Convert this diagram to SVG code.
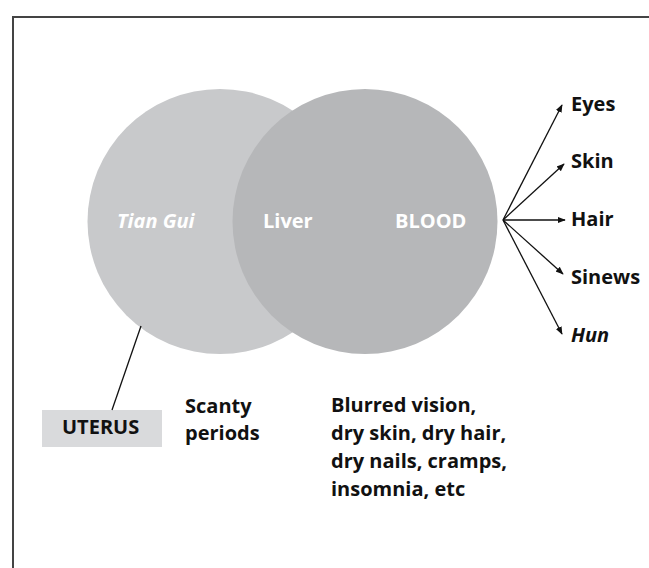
<svg xmlns="http://www.w3.org/2000/svg" width="649" height="568" viewBox="0 0 649 568">
  <defs>
    <style>
      .t { font-family: "Open Sans", "Liberation Sans", sans-serif; font-weight: 700; font-size: 20px; fill: #111; }
      .w { fill: #ffffff; }
      .i { font-style: italic; }
      .conn { stroke: #111; stroke-width: 1.3; fill: none; }
    </style>
    <marker id="ah" viewBox="0 0 10 10" refX="9" refY="5" markerWidth="8" markerHeight="8" markerUnits="userSpaceOnUse" orient="auto">
      <path d="M0,1 L10,5 L0,9 Z" fill="#111"/>
    </marker>
  </defs>
  <rect x="0" y="0" width="649" height="568" fill="#ffffff"/>
  <rect x="13" y="17" width="700" height="600" fill="none" stroke="#444" stroke-width="2"/>

  <g id="tiangui">
    <circle cx="220" cy="221.5" r="132.5" fill="#c8c9cb"/>
    <text class="t w i" x="117" y="228">Tian Gui</text>
  </g>
  <g id="liver">
    <circle cx="365" cy="221.5" r="132.5" fill="#b6b7b9"/>
    <text class="t w" x="263" y="228">Liver</text>
    <text class="t w" x="395" y="228">BLOOD</text>
  </g>
  <g id="uterus">
    <rect x="42" y="410" width="120" height="37" fill="#d9dadc"/>
    <text class="t" x="62" y="434">UTERUS</text>
  </g>
  <g id="scanty">
    <text class="t" x="185" y="413">Scanty</text>
    <text class="t" x="185" y="440">periods</text>
  </g>
  <g id="symptoms">
    <text class="t" x="331" y="412">Blurred vision,</text>
    <text class="t" x="331" y="440">dry skin, dry hair,</text>
    <text class="t" x="331" y="468">dry nails, cramps,</text>
    <text class="t" x="331" y="496">insomnia, etc</text>
  </g>
  <g id="eyes"><text class="t" x="571" y="111">Eyes</text></g>
  <g id="skin"><text class="t" x="571" y="168">Skin</text></g>
  <g id="hair"><text class="t" x="571" y="226">Hair</text></g>
  <g id="sinews"><text class="t" x="571" y="284">Sinews</text></g>
  <g id="hun"><text class="t i" x="571" y="342">Hun</text></g>

  <g id="connectors">
    <line class="conn" x1="141" y1="326" x2="112" y2="410"/>
    <line class="conn" x1="503" y1="220" x2="562" y2="105" marker-end="url(#ah)"/>
    <line class="conn" x1="503" y1="220" x2="564" y2="164" marker-end="url(#ah)"/>
    <line class="conn" x1="503" y1="220" x2="565" y2="220" marker-end="url(#ah)"/>
    <line class="conn" x1="503" y1="220" x2="563" y2="274" marker-end="url(#ah)"/>
    <line class="conn" x1="503" y1="220" x2="562" y2="334" marker-end="url(#ah)"/>
  </g>
</svg>
